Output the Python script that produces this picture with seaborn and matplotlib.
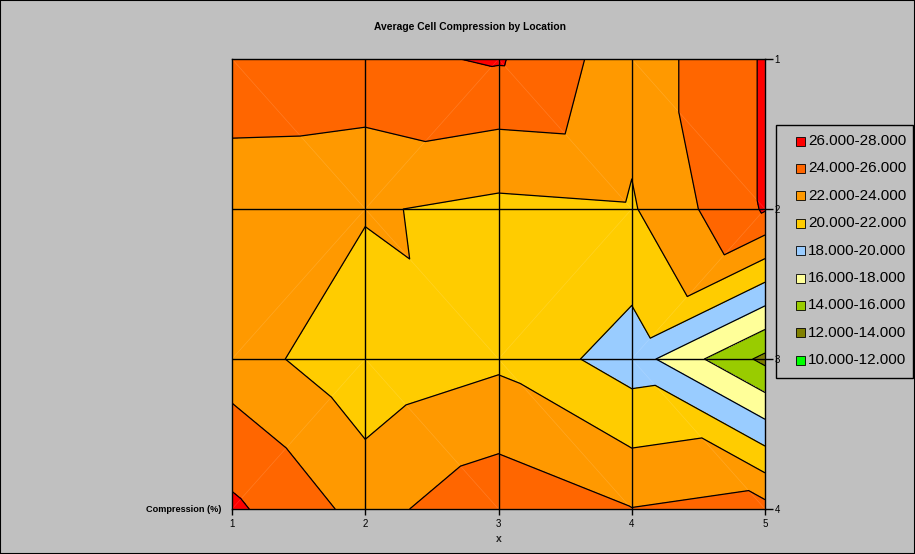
import numpy as np
import matplotlib
matplotlib.use("Agg")
import matplotlib.pyplot as plt
import matplotlib.tri as mtri
from matplotlib.patches import Rectangle
import seaborn as sns

# grid positions (x across, y rows top -> bottom)
x_pos = [1, 2, 3, 4, 5]
y_pos = [1, 2, 3, 4]

# average compression (%), one list per row
comp_row1 = [25.9, 25.5, 26.2, 22.8, 26.2]
comp_row2 = [22.3, 22.2, 21.5, 21.8, 26.2]
comp_row3 = [23.0, 20.5, 21.6, 19.0, 13.5]
comp_row4 = [26.4, 23.3, 25.4, 24.05, 24.7]

levels = [10, 12, 14, 16, 18, 20, 22, 24, 26, 28]
band_colors = ["#00FF00", "#808000", "#99CC00", "#FFFF99", "#99CCFF",
               "#FFCC00", "#FF9900", "#FF6600", "#FF0000"]

# how each grid cell is split into two triangles (as in the Excel surface)
cell_split = [["\\", "/", "\\", "\\"],
              ["/", "\\", "/", "/"],
              ["/", "\\", "\\", "\\"]]

sns.set_theme(style="white", rc={"figure.facecolor": "#C0C0C0",
                                 "axes.edgecolor": "black",
                                 "text.color": "black",
                                 "xtick.color": "black",
                                 "ytick.color": "black"})
plt.rcParams["font.family"] = ["Liberation Sans", "DejaVu Sans"]

z = np.array([comp_row1, comp_row2, comp_row3, comp_row4])
xx, yy = np.meshgrid(x_pos, y_pos)
nx = len(x_pos)


def node(i, j):
    return j * nx + i


triangles = []
for j, row in enumerate(cell_split):
    for i, d in enumerate(row):
        tl, tr = node(i, j), node(i + 1, j)
        bl, br = node(i, j + 1), node(i + 1, j + 1)
        if d == "\\":
            triangles += [[tl, tr, br], [tl, br, bl]]
        else:
            triangles += [[tl, tr, bl], [tr, br, bl]]
tri = mtri.Triangulation(xx.ravel(), yy.ravel(), triangles)

fig = plt.figure(figsize=(9.15, 5.54), dpi=100)
ax = fig.add_axes([232 / 915, 1 - 509 / 554, 533 / 915, 450 / 554])

ax.tricontourf(tri, z.ravel(), levels=levels, colors=band_colors)
ax.triplot(tri, color="white", alpha=0.15, lw=0.5)
ax.tricontour(tri, z.ravel(), levels=levels, colors="black", linewidths=0.9)

for xv in x_pos[1:-1]:
    ax.axvline(xv, color="black", lw=1)
for yv in y_pos[1:-1]:
    ax.axhline(yv, color="black", lw=1)

ax.set_xlim(1, 5)
ax.set_ylim(4, 1)
ax.set_xticks(x_pos)
ax.set_yticks(y_pos)
ax.yaxis.tick_right()
ax.tick_params(axis="x", bottom=True, direction="out", length=4, width=1,
               labelsize=7, pad=3)
ax.tick_params(axis="y", right=True, left=False, direction="out", length=6,
               width=1, labelsize=7, pad=1)
for sp in ax.spines.values():
    sp.set_color("black")
    sp.set_linewidth(1)

ax.set_xlabel("x", fontsize=7.5, fontweight="bold", labelpad=4)
ax.text(-0.02, 0, "Compression (%)", transform=ax.transAxes, ha="right",
        va="center", fontsize=6.6, fontweight="bold")

fig.text(470 / 915, 1 - 27 / 554, "Average Cell Compression by Location",
         ha="center", va="center", fontsize=7.4, fontweight="bold")

# legend box, highest band on top
W, H = 915, 554
fig.patches.append(Rectangle((776 / W, 1 - 378 / H), (913 - 776) / W, (378 - 125) / H,
                             transform=fig.transFigure, fill=False,
                             ec="black", lw=1))
for k in range(len(band_colors)):
    lo = levels[-2 - k]
    hi = levels[-1 - k]
    yc = 141 + k * 27.4
    fig.patches.append(Rectangle((796 / W, 1 - (yc + 4.5) / H), 9 / W, 9 / H,
                                 transform=fig.transFigure,
                                 fc=band_colors[-1 - k], ec="black", lw=0.6))
    fig.text(808 / W, 1 - yc / H, f"{lo:.3f}-{hi:.3f}", ha="left",
             va="center", fontsize=11)

fig.patches.append(Rectangle((0, 0), 1, 1, transform=fig.transFigure,
                             fill=False, ec="black", lw=1.5))

fig.savefig("out.png", dpi=100, facecolor=fig.get_facecolor())
